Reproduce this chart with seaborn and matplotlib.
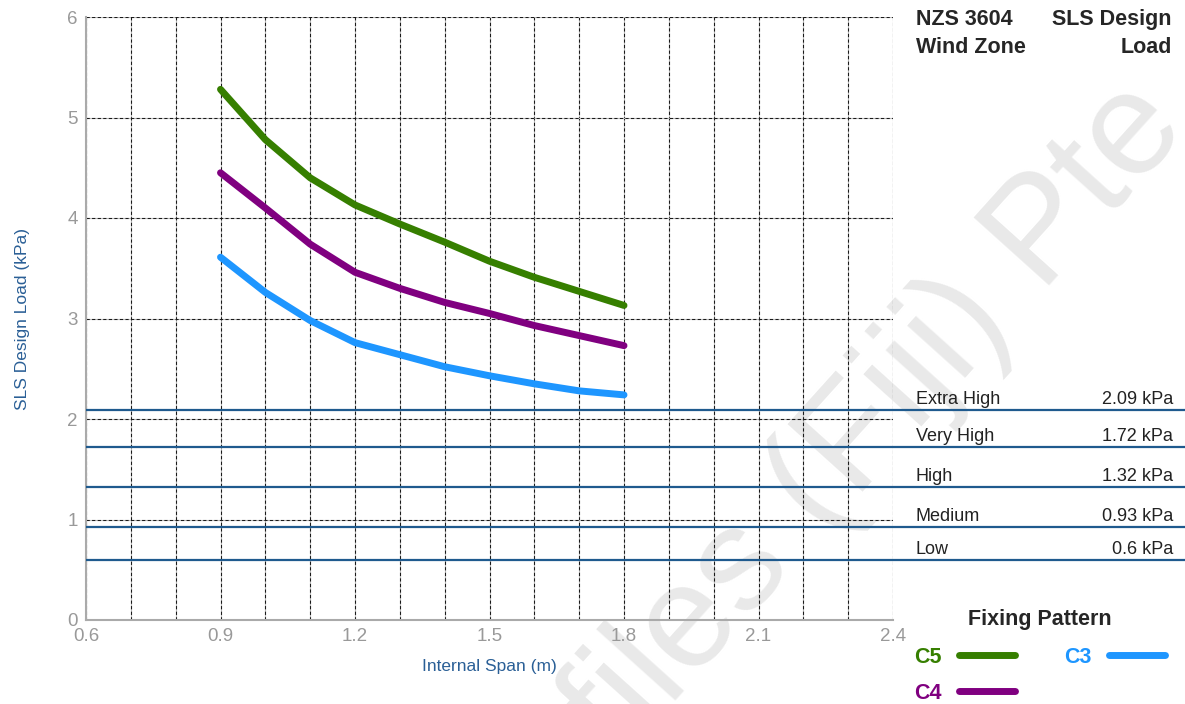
import matplotlib
matplotlib.use("Agg")
import matplotlib.pyplot as plt
import matplotlib.transforms as mtransforms
from matplotlib.lines import Line2D
from matplotlib.ticker import MultipleLocator
import pandas as pd
import seaborn as sns

# data
span = [0.9, 1.0, 1.1, 1.2, 1.3, 1.4, 1.5, 1.6, 1.7, 1.8]
c5_load = [5.28, 4.78, 4.40, 4.13, 3.94, 3.76, 3.57, 3.41, 3.27, 3.13]
c4_load = [4.45, 4.10, 3.74, 3.46, 3.30, 3.16, 3.05, 2.93, 2.83, 2.73]
c3_load = [3.61, 3.26, 2.98, 2.76, 2.64, 2.52, 2.43, 2.35, 2.28, 2.24]

patterns = ["C5", "C4", "C3"]
pattern_colors = ["#367f00", "#800080", "#1e96ff"]

zone_names = ["Extra High", "Very High", "High", "Medium", "Low"]
zone_loads = [2.09, 1.72, 1.32, 0.93, 0.6]
zone_labels = ["2.09 kPa", "1.72 kPa", "1.32 kPa", "0.93 kPa", "0.6 kPa"]

x_ticks = [0.6, 0.9, 1.2, 1.5, 1.8, 2.1, 2.4]
y_ticks = [0, 1, 2, 3, 4, 5, 6]

df = pd.DataFrame({
    "span": span * 3,
    "load": c5_load + c4_load + c3_load,
    "pattern": [p for p in patterns for _ in span],
})

sns.set_theme(style="white")
plt.rcParams["font.family"] = ["Liberation Sans", "DejaVu Sans"]

W, H = 1185, 704
fig = plt.figure(figsize=(W / 100, H / 100), dpi=100)
ax = fig.add_axes([86 / W, 84 / H, 807 / W, 603 / H])
ax.patch.set_facecolor("none")

# watermark, behind the axes
fig.text(620 / W, 1 - 762 / H, "files (Fiji) Pte", rotation=48, rotation_mode="anchor",
         ha="left", va="baseline", fontsize=106, color="#e9e9e9", zorder=-1)

sns.lineplot(df, x="span", y="load", hue="pattern", palette=dict(zip(patterns, pattern_colors)),
             linewidth=5, legend=False, ax=ax, solid_capstyle="round", solid_joinstyle="round")

ax.set_xlim(0.6, 2.4)
ax.set_ylim(0, 6)
ax.set_xticks(x_ticks)
ax.set_xticklabels([f"{t:.1f}" for t in x_ticks])
ax.set_yticks(y_ticks)
ax.xaxis.set_minor_locator(MultipleLocator(0.1))
grid_kw = dict(color="#1a1a1a", linestyle=(0, (3, 2)), linewidth=0.8, gapcolor="#bbbbbb")
ax.grid(axis="x", which="both", **grid_kw)
ax.grid(axis="y", which="major", **grid_kw)
ax.set_axisbelow(True)

for side in ["top", "right"]:
    ax.spines[side].set_visible(False)
for side in ["left", "bottom"]:
    ax.spines[side].set_color("#aaaaaa")
    ax.spines[side].set_linewidth(1.5)
ax.tick_params(which="both", length=0, labelcolor="#999999", labelsize=13.5, pad=6)

ax.set_xlabel("Internal Span (m)", color="#2a5f96", fontsize=12.5, labelpad=10)
ax.set_ylabel("SLS Design Load (kPa)", color="#2a5f96", fontsize=12.5, labelpad=27)

# wind zone lines running out into the side panel
x_end = (W - 86) / 807
ax.hlines(zone_loads, 0, x_end, transform=ax.get_yaxis_transform(), clip_on=False,
          color="#1f5a8e", linewidth=1.6, zorder=3)
label_tr = mtransforms.offset_copy(ax.get_yaxis_transform(), fig=fig, y=6, units="dots")
for name, load, lab in zip(zone_names, zone_loads, zone_labels):
    ax.text((916 - 86) / 807, load, name, transform=label_tr, ha="left", va="baseline",
            fontsize=13, color="#222222", clip_on=False)
    ax.text((1173 - 86) / 807, load, lab, transform=label_tr, ha="right", va="baseline",
            fontsize=13, color="#222222", clip_on=False)

# side panel header
fig.text(916 / W, 1 - 9 / H, "NZS 3604\nWind Zone", ha="left", va="top",
         fontsize=15.5, fontweight="bold", linespacing=1.45)
fig.text(1172 / W, 1 - 9 / H, "SLS Design\nLoad", ha="right", va="top", multialignment="right",
         fontsize=15.5, fontweight="bold", linespacing=1.45)

handles = [Line2D([], [], color=c, linewidth=5, solid_capstyle="round") for c in pattern_colors]
leg = fig.legend(handles, patterns, ncol=2, markerfirst=False, title="Fixing Pattern",
                 loc="upper left", bbox_to_anchor=(914 / W, 1 - 609 / H), frameon=False,
                 borderpad=0, borderaxespad=0, prop={"weight": "bold", "size": 15.5},
                 title_fontproperties={"weight": "bold", "size": 15.5},
                 handlelength=2.6, handletextpad=0.8, columnspacing=2.3, labelspacing=0.7)
leg._legend_box.sep = 12
for txt, c in zip(leg.get_texts(), pattern_colors):
    txt.set_color(c)

fig.savefig("out.png", dpi=100)
